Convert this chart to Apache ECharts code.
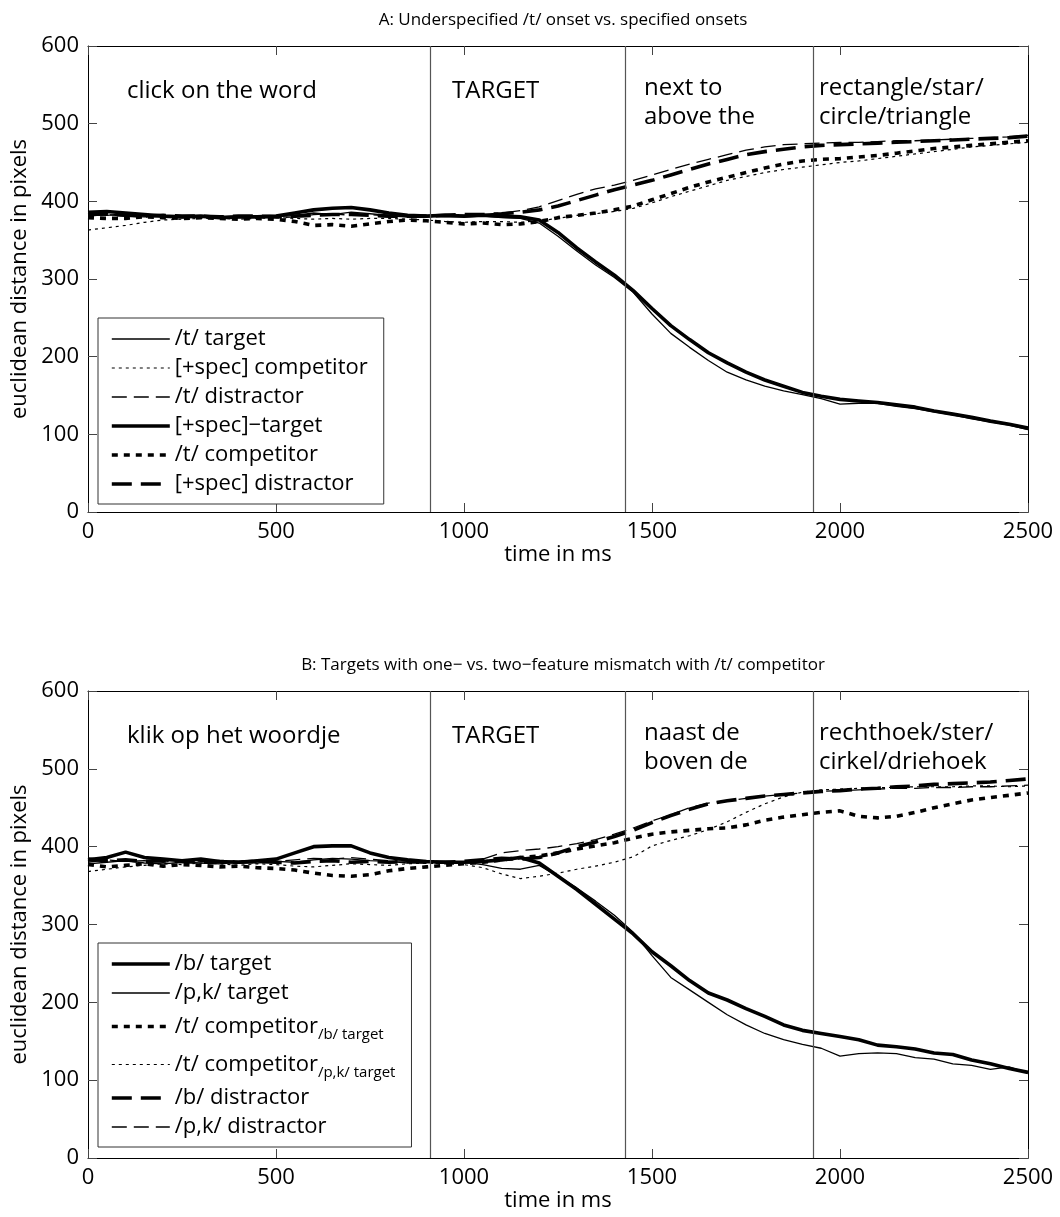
<!DOCTYPE html>
<html><head><meta charset="utf-8">
<script src="https://cdn.jsdelivr.net/npm/echarts@6/dist/echarts.min.js"></script>
<style>html,body{margin:0;padding:0;background:#fff}#c{width:1060px;height:1217px}</style>
</head><body><div id="c"></div>
<script>
// ---------- data ----------
const timeMs = [0,50,100,150,200,250,300,350,400,450,500,550,600,650,700,750,800,850,900,950,
  1000,1050,1100,1150,1200,1250,1300,1350,1400,1450,1500,1550,1600,1650,1700,1750,1800,1850,1900,1950,
  2000,2050,2100,2150,2200,2250,2300,2350,2400,2450,2500];
const xTicks = [0,500,1000,1500,2000,2500];
const yTicks = [0,100,200,300,400,500,600];
const eventOnsets = [910,1430,1930];

// Panel A
const aTTarget = [383,382,384,381,380,379,380,381,379,380,380,382,385,383,386,384,382,380,381,380,
  380,381,379,378,372,355,336,318,302,283,255,230,212,195,180,170,162,156,151,146,
  139,140,140,136,133,129,125,120,116,112,106];
const aSpecComp = [363,366,369,373,376,377,378,378,377,378,379,378,377,378,377,378,378,377,376,374,
  373,374,374,373,375,378,382,384,387,391,398,406,413,420,427,432,437,441,444,447,
  450,452,455,458,461,464,467,470,472,474,476];
const aTDist = [381,383,381,380,381,379,380,380,381,380,379,380,383,384,382,383,381,380,380,381,
  382,383,385,388,393,401,409,416,421,427,434,441,448,454,460,466,470,473,474,475,
  476,476,477,478,478,479,480,481,482,483,485];
const aSpecTarget = [386,387,385,383,381,380,381,379,380,380,381,385,389,391,392,389,385,382,381,382,
  381,382,381,380,376,360,340,322,305,285,262,240,222,205,192,180,170,162,154,149,
  145,143,141,138,135,130,126,122,117,113,108];
const aTComp = [379,378,378,380,379,378,379,378,377,378,377,374,369,370,368,371,374,376,375,373,
  371,372,370,371,374,379,382,385,389,394,402,410,418,425,431,437,443,448,452,454,
  455,457,459,462,465,468,470,472,474,476,478];
const aSpecDist = [383,384,382,381,382,381,381,380,381,381,380,381,382,383,383,382,381,381,381,382,
  383,383,384,386,389,394,401,408,415,421,427,434,441,448,454,460,464,467,470,472,
  473,474,475,476,477,478,479,480,481,482,484];

// Panel B
const bBTarget = [383,386,393,386,384,382,384,381,380,382,384,392,400,401,401,392,386,383,381,380,
  380,381,383,386,379,362,345,326,307,288,265,247,228,212,203,192,182,171,164,160,
  156,152,145,143,140,135,133,126,121,115,110];
const bPKTarget = [378,380,382,379,378,380,379,378,380,379,381,380,383,385,384,382,381,379,380,379,
  380,377,372,371,376,362,347,330,312,290,260,232,216,200,184,171,160,152,146,141,
  131,134,135,134,129,127,121,119,114,117,109];
const bCompB = [377,374,376,378,375,377,376,374,375,373,372,370,366,363,362,364,369,372,374,376,
  378,380,383,386,388,392,397,401,405,411,416,419,421,423,424,428,434,438,441,444,
  446,439,437,439,444,450,455,460,463,466,469];
const bCompPK = [368,371,374,376,378,377,379,378,376,378,377,375,374,376,378,377,376,378,379,378,
  377,373,365,359,362,366,371,375,380,387,401,408,414,422,432,444,455,464,470,473,
  474,475,476,476,477,477,477,478,478,477,478];
const bBDist = [384,382,383,381,382,381,380,381,380,381,380,379,381,382,380,381,380,381,380,380,
  381,383,385,384,386,392,400,406,413,421,431,440,448,455,459,462,465,467,469,471,
  472,474,475,477,478,480,481,482,483,485,487];
const bPKDist = [380,383,381,382,380,383,381,380,382,380,381,383,385,384,386,384,382,381,380,381,
  380,384,392,395,397,400,404,409,416,424,433,441,450,456,459,462,465,467,469,471,
  472,473,474,475,475,476,476,477,477,478,479];

const titleA = 'A: Underspecified /t/ onset vs. specified onsets';
const titleB = 'B: Targets with one\u2212 vs. two\u2212feature mismatch with /t/ competitor';
const labelsA = ['click on the word', 'TARGET', 'next to\nabove the', 'rectangle/star/\ncircle/triangle'];
const labelsB = ['klik op het woordje', 'TARGET', 'naast de\nboven de', 'rechthoek/ster/\ncirkel/driehoek'];

// ---------- styling ----------
const FONT = '"Open Sans", "Noto Sans", sans-serif';
const THIN = 1.3, THICK = 3.6;
const styles = {
  thinSolid:  {width: THIN, type: 'solid'},
  thinDot:    {width: 1.2, type: [3, 4]},
  thinDash:   {width: THIN, type: [15, 7]},
  thickSolid: {width: THICK, type: 'solid'},
  thickDot:   {width: THICK, type: [6, 6]},
  thickDash:  {width: THICK, type: [20, 9]}
};
const zip = vals => timeMs.map((t, i) => [t, vals[i]]);

const GRID_A = {left: 88, right: 32, top: 46, height: 466};
const GRID_B = {left: 88, right: 32, top: 691, height: 467};
const OFF = GRID_B.top - GRID_A.top;

function mkSeries(name, vals, st, g) {
  return {
    name: name, type: 'line', data: zip(vals), xAxisIndex: g * 2, yAxisIndex: g * 2,
    symbol: 'none', showSymbol: false, smooth: false,
    lineStyle: {color: '#000', width: st.width, type: st.type},
    itemStyle: {color: '#000'}, emphasis: {disabled: true}, z: 3
  };
}

const seriesA = [
  mkSeries('/t/ target', aTTarget, styles.thinSolid, 0),
  mkSeries('[+spec] competitor', aSpecComp, styles.thinDot, 0),
  mkSeries('/t/ distractor', aTDist, styles.thinDash, 0),
  mkSeries('[+spec]\u2212target', aSpecTarget, styles.thickSolid, 0),
  mkSeries('/t/ competitor', aTComp, styles.thickDot, 0),
  mkSeries('[+spec] distractor', aSpecDist, styles.thickDash, 0)
];
const seriesB = [
  mkSeries('/b/ target', bBTarget, styles.thickSolid, 1),
  mkSeries('/p,k/ target', bPKTarget, styles.thinSolid, 1),
  mkSeries('/t/ competitor|/b/ target', bCompB, styles.thickDot, 1),
  mkSeries('/t/ competitor|/p,k/ target', bCompPK, styles.thinDot, 1),
  mkSeries('/b/ distractor', bBDist, styles.thickDash, 1),
  mkSeries('/p,k/ distractor', bPKDist, styles.thinDash, 1)
];
// vertical onset lines
[seriesA[0], seriesB[1]].forEach(s => {
  s.markLine = {
    silent: true, symbol: ['none', 'none'], animation: false,
    label: {show: false},
    lineStyle: {color: '#555', width: 1.2, type: 'solid'},
    data: eventOnsets.map(v => ({xAxis: v}))
  };
});

function xAxes(g) {
  const base = {
    gridIndex: g, type: 'value', min: xTicks[0], max: xTicks[xTicks.length - 1], interval: 500,
    splitLine: {show: false},
    axisLine: {show: true, onZero: false, lineStyle: {color: '#000', width: 1}},
    axisTick: {show: true, inside: true, length: 9, lineStyle: {color: '#444'}}
  };
  return [
    Object.assign({}, base, {
      position: 'bottom',
      axisLabel: {show: true, fontSize: 22, color: '#000', margin: 9, fontFamily: FONT,
        formatter: v => String(v)},
      name: 'time in ms', nameLocation: 'middle', nameGap: 32,
      nameTextStyle: {fontSize: 22, color: '#000', fontFamily: FONT}
    }),
    Object.assign({}, base, {position: 'top', axisLabel: {show: false}})
  ];
}
function yAxes(g) {
  const base = {
    gridIndex: g, type: 'value', min: yTicks[0], max: yTicks[yTicks.length - 1], interval: 100,
    splitLine: {show: false},
    axisLine: {show: true, onZero: false, lineStyle: {color: '#000', width: 1}},
    axisTick: {show: true, inside: true, length: 9, lineStyle: {color: '#444'}}
  };
  return [
    Object.assign({}, base, {
      position: 'left',
      axisLabel: {show: true, fontSize: 22, color: '#000', margin: 9, fontFamily: FONT,
        formatter: v => String(v)},
      name: 'euclidean distance in pixels', nameLocation: 'middle', nameGap: 52, nameRotate: 90,
      nameTextStyle: {fontSize: 22, color: '#000', fontFamily: FONT}
    }),
    Object.assign({}, base, {position: 'right', axisLabel: {show: false}})
  ];
}

const legendBase = {
  orient: 'vertical', itemWidth: 58, itemHeight: 14, itemGap: 7,
  padding: [10, 16, 9, 12], borderColor: '#333', borderWidth: 1, backgroundColor: '#fff',
  selectedMode: false, inactiveColor: '#000',
  itemStyle: {color: 'rgba(0,0,0,0)', borderColor: 'rgba(0,0,0,0)', borderWidth: 0, opacity: 0},
  lineStyle: {width: 'inherit', type: 'inherit', color: '#000'},
  formatter: function (name) {
    const i = name.indexOf('|');
    if (i < 0) return name;
    return '{m|' + name.slice(0, i) + '}{s|' + name.slice(i + 1) + '}';
  },
  textStyle: {
    color: '#000', fontFamily: FONT, fontSize: 22, lineHeight: 22,
    rich: {
      m: {fontSize: 22, lineHeight: 22, fontFamily: FONT, color: '#000'},
      s: {fontSize: 15, lineHeight: 15, fontFamily: FONT, color: '#000', padding: [16, 0, 0, 0]}
    }
  }
};

function annot(labels, dy) {
  const xs = [127, 452, 644, 819];
  return labels.map((t, i) => ({
    type: 'text', x: xs[i], y: (t.indexOf('\n') >= 0 ? 103 : 91) + dy, z: 10,
    style: {text: t, fontSize: 24, fontFamily: FONT, fill: '#000', lineHeight: 29,
      align: 'left', verticalAlign: 'middle'}
  }));
}

const option = {
  animation: false,
  backgroundColor: '#fff',
  title: [
    {text: titleA, left: 558, top: 7, textAlign: 'center',
      textStyle: {fontSize: 17, fontWeight: 'normal', color: '#000', fontFamily: FONT}},
    {text: titleB, left: 558, top: 7 + OFF, textAlign: 'center',
      textStyle: {fontSize: 17, fontWeight: 'normal', color: '#000', fontFamily: FONT}}
  ],
  grid: [
    Object.assign({outerBoundsMode: 'none', containLabel: false}, GRID_A),
    Object.assign({outerBoundsMode: 'none', containLabel: false}, GRID_B)
  ],
  xAxis: xAxes(0).concat(xAxes(1)),
  yAxis: yAxes(0).concat(yAxes(1)),
  legend: [
    Object.assign({}, legendBase, {left: 98, top: 318, data: seriesA.map(s => s.name)}),
    Object.assign({}, legendBase, {left: 98, top: 943, data: seriesB.map(s => s.name)})
  ],
  graphic: annot(labelsA, 0).concat(annot(labelsB, OFF)),
  series: seriesA.concat(seriesB)
};

const chart = echarts.init(document.getElementById('c'), null, {renderer: 'canvas'});
chart.setOption(option);
</script>
</body></html>
